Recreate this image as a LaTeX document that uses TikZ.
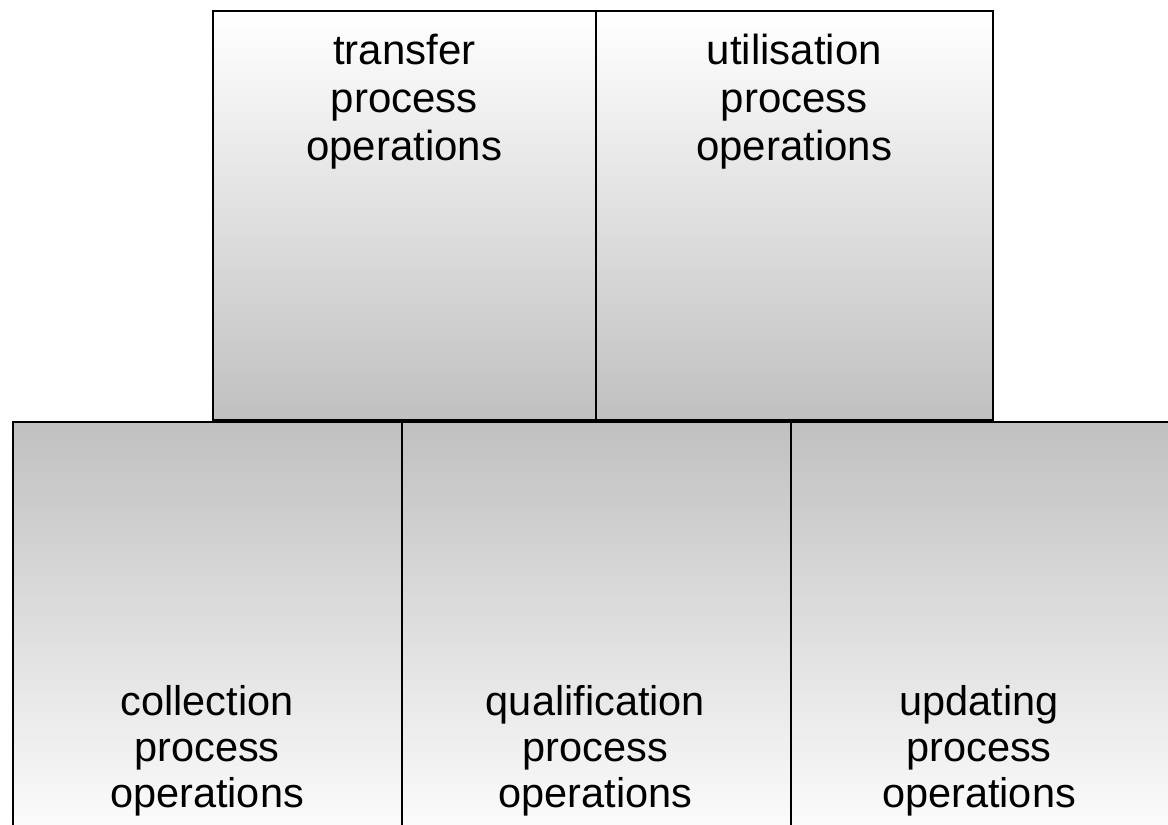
\documentclass[tikz,border=0pt]{standalone}
\usepackage{fontspec}
\setmainfont{Liberation Sans}
\definecolor{boxgray}{RGB}{192,192,192}
\begin{document}
\begin{tikzpicture}[x=1pt,y=1pt,
  upperbox/.style={draw=black, line width=1.6pt, top color=white, bottom color=boxgray},
  lowerbox/.style={draw=black, line width=1.6pt, top color=boxgray, bottom color=white},
  lbl/.style={align=center, inner sep=0pt, font=\fontsize{42}{48}\selectfont},
  lbllow/.style={align=center, inner sep=0pt, font=\fontsize{41.5}{46}\selectfont}]
\useasboundingbox (0,0) rectangle (1168,825);
\clip (0,0) rectangle (1168,825);
% upper row
\node[upperbox, minimum width=383pt, minimum height=409pt, anchor=south west, inner sep=0pt] (transfer) at (212,404) {};
\node[upperbox, minimum width=397pt, minimum height=409pt, anchor=south west, inner sep=0pt] (utilisation) at (595,404) {};
% lower row
\node[lowerbox, minimum width=389pt, minimum height=430pt, anchor=north west, inner sep=0pt] (collection) at (12,404) {};
\node[lowerbox, minimum width=389pt, minimum height=430pt, anchor=north west, inner sep=0pt] (qualification) at (401,404) {};
\node[lowerbox, minimum width=400pt, minimum height=430pt, anchor=north west, inner sep=0pt] (updating) at (790,404) {};
% labels
\node[lbl, anchor=north] (t1) at (transfer.north |- 0,791) {transfer\\process\\operations};
\node[lbl, anchor=north] (t2) at (utilisation.north |- 0,791) {utilisation\\process\\operations};
\node[lbllow, anchor=south] (t3) at (207,8.5) {collection\\process\\operations};
\node[lbllow, anchor=south] (t4) at (595.5,8.5) {qualification\\process\\operations};
\node[lbllow, anchor=south] (t5) at (979,8.5) {updating\\process\\operations};
\end{tikzpicture}
\end{document}
